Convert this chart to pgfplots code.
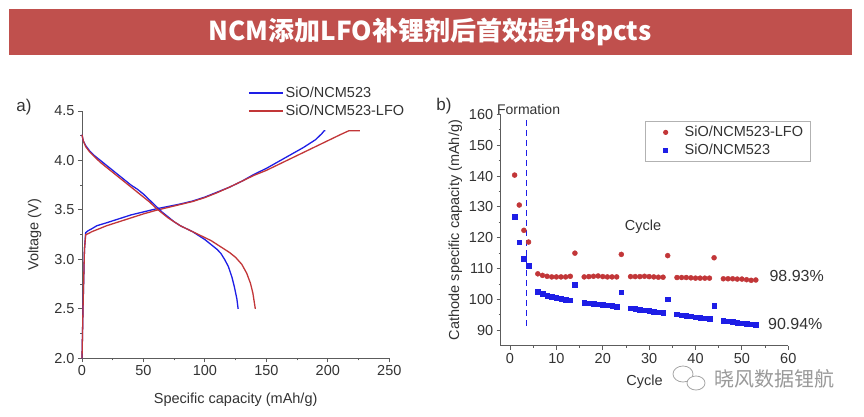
\documentclass[border=0pt]{standalone}
\usepackage{pgfplots}
\pgfplotsset{compat=1.18}
\usepackage{fontspec}
\setmainfont{Liberation Sans}
\newfontfamily\cjk{Noto Sans CJK SC}
\definecolor{banner}{HTML}{C0504D}
\definecolor{myblue}{HTML}{1E1EE6}
\definecolor{myred}{HTML}{C23638}
\definecolor{txt}{HTML}{333333}
\pgfplotsset{ostyle/.style={
  scale only axis, axis x line=bottom, axis y line=left,
  axis line style={txt!80, line width=0.9pt, -},
  tick align=outside, major tick length=4pt, minor tick length=2pt,
  every tick/.style={txt!80, line width=0.9pt},
  tick label style={font=\fontsize{14.5}{16}\selectfont, color=txt},
  label style={font=\fontsize{14.5}{16}\selectfont, color=txt},
  /pgf/number format/assume math mode=true,
  minor tick num=1, clip=false}}
\begin{document}
\begin{tikzpicture}
\useasboundingbox (0pt,0pt) rectangle (864pt,-416pt);
\fill[white] (0pt,0pt) rectangle (864pt,-416pt);
\fill[banner] (9pt,-9pt) rectangle (852pt,-55pt);
\node[white,font=\cjk\bfseries\fontsize{26}{28}\selectfont] at (430pt,-32pt) {NCM添加LFO补锂剂后首效提升8pcts};
\node[txt,font=\fontsize{17}{19}\selectfont] at (24pt,-107pt) {a)};
\node[txt,font=\fontsize{17}{19}\selectfont] at (444pt,-106pt) {b)};

\begin{axis}[ostyle, at={(82pt,-358.3pt)}, anchor=south west,
  width=307.3pt, height=247.3pt,
  xmin=0, xmax=250, ymin=2, ymax=4.5,
  xtick={0,50,...,250}, ytick={2,2.5,...,4.5},
  yticklabel style={/pgf/number format/.cd, fixed, fixed zerofill, precision=1},
  xlabel={Specific capacity (mAh/g)}, ylabel={Voltage (V)},
  xlabel style={yshift=-10pt}, ylabel style={yshift=6pt},
  legend style={at={(rel axis cs:0.54,1.105)}, anchor=north west, draw=none, fill=none,
    inner sep=0pt, row sep=2pt, font=\fontsize{14.5}{16}\selectfont, text=txt},
  legend cell align=left]
\addplot[myblue, line width=1.3pt, legend image code/.code={\draw[myblue, line width=1.6pt] (0pt,0pt) -- (34pt,0pt);}] coordinates {(0,2.0) (1,2.6) (2,3.1) (3,3.27) (5,3.29) (8,3.31) (12,3.34) (20,3.37) (30,3.41) (40,3.45) (50,3.48) (60,3.51) (70,3.535) (80,3.56) (90,3.59) (100,3.63) (110,3.68) (120,3.73) (130,3.79) (140,3.86) (150,3.92) (160,3.99) (170,4.06) (180,4.13) (190,4.21) (195,4.27) (197,4.30) (198,4.30)};
\addlegendentry{SiO/NCM523}
\addplot[myred, line width=1.3pt, legend image code/.code={\draw[myred, line width=1.6pt] (0pt,0pt) -- (34pt,0pt);}] coordinates {(0,2.0) (1,2.6) (2,3.1) (3,3.25) (5,3.26) (8,3.28) (12,3.30) (20,3.34) (30,3.38) (40,3.42) (50,3.46) (60,3.495) (70,3.525) (80,3.555) (90,3.585) (100,3.625) (110,3.675) (120,3.73) (130,3.79) (140,3.85) (150,3.90) (160,3.96) (170,4.02) (180,4.08) (190,4.14) (200,4.20) (210,4.26) (217,4.30) (226,4.30)};
\addlegendentry{SiO/NCM523-LFO}
\addplot[myblue, line width=1.3pt, forget plot] coordinates {(0,4.26) (1,4.20) (3,4.15) (6,4.10) (10,4.05) (15,4.00) (20,3.95) (25,3.90) (30,3.85) (35,3.80) (40,3.75) (45,3.71) (50,3.66) (55,3.60) (60,3.54) (65,3.48) (70,3.43) (75,3.38) (80,3.34) (85,3.31) (90,3.28) (95,3.24) (100,3.20) (105,3.15) (110,3.10) (113,3.06) (116,3.00) (119,2.93) (122,2.82) (124,2.72) (126,2.60) (127,2.50)};
\addplot[myred, line width=1.3pt, forget plot] coordinates {(0,4.26) (1,4.20) (3,4.14) (6,4.09) (10,4.04) (15,3.98) (20,3.93) (25,3.88) (30,3.83) (35,3.78) (40,3.73) (45,3.68) (50,3.63) (55,3.58) (60,3.52) (65,3.47) (70,3.42) (75,3.38) (80,3.34) (85,3.31) (90,3.28) (95,3.25) (100,3.22) (105,3.19) (110,3.15) (115,3.11) (120,3.07) (125,3.02) (130,2.95) (134,2.86) (137,2.76) (139,2.66) (141,2.50)};
\end{axis}

\begin{axis}[ostyle, at={(500.7pt,-345.7pt)}, anchor=south west,
  width=287.6pt, height=231.4pt,
  xmin=-2, xmax=60, ymin=85, ymax=160,
  xtick={0,10,...,60}, ytick={90,100,...,160},
  xlabel={Cycle}, ylabel={Cathode specific capacity (mAh/g)},
  xlabel style={yshift=-5pt},
  legend style={at={(rel axis cs:0.502,0.972)}, anchor=north west, draw=gray!60, line width=1.2pt,
    fill=white, inner xsep=5pt, inner ysep=3pt, row sep=2pt, font=\fontsize{14.5}{16}\selectfont, text=txt},
  legend cell align=left]
\addplot[only marks, mark=*, mark size=2.5pt, myred, mark options={fill=myred, draw=myred},
  legend image code/.code={\path[draw=none,fill=none] (0pt,-3pt) rectangle (32pt,3pt); \fill[myred, draw=none] (15pt,0pt) circle (2.6pt);}] coordinates {(1,140.3) (2,130.6) (3,122.4) (4,118.6) (6,108.3) (7,107.8) (8,107.5) (9,107.3) (10,107.3) (11,107.3) (12,107.3) (13,107.5) (14,115.0) (16,107.3) (17,107.4) (18,107.5) (19,107.6) (20,107.4) (21,107.3) (22,107.3) (23,107.3) (24,114.6) (26,107.4) (27,107.4) (28,107.4) (29,107.5) (30,107.4) (31,107.3) (32,107.2) (33,107.2) (34,114.2) (36,107.1) (37,107.1) (38,107.1) (39,107.0) (40,106.9) (41,106.9) (42,106.9) (43,106.9) (44,113.5) (46,106.7) (47,106.7) (48,106.7) (49,106.6) (50,106.6) (51,106.4) (52,106.2) (53,106.3)};
\addlegendentry{SiO/NCM523-LFO}
\addplot[only marks, mark=square*, mark size=2.3pt, myblue, mark options={fill=myblue, draw=myblue},
  legend image code/.code={\path[draw=none,fill=none] (0pt,-3pt) rectangle (32pt,3pt); \fill[myblue, draw=none] (12.7pt,-2.3pt) rectangle (17.3pt,2.3pt);}] coordinates {(1,126.9) (2,118.5) (3,113.2) (4,111.0) (6,102.5) (7,101.9) (8,101.3) (9,100.9) (10,100.6) (11,100.3) (12,100.0) (13,99.7) (14,104.8) (16,99.0) (17,98.8) (18,98.6) (19,98.4) (20,98.3) (21,98.1) (22,97.9) (23,97.7) (24,102.3) (26,97.2) (27,96.9) (28,96.7) (29,96.5) (30,96.3) (31,96.1) (32,95.9) (33,95.7) (34,100.1) (36,95.2) (37,94.9) (38,94.7) (39,94.5) (40,94.3) (41,94.1) (42,93.9) (43,93.7) (44,97.9) (46,93.2) (47,92.9) (48,92.7) (49,92.5) (50,92.3) (51,92.1) (52,92.0) (53,91.9)};
\addlegendentry{SiO/NCM523}
\addplot[myblue, line width=1.3pt, dash pattern=on 6pt off 4pt, forget plot] coordinates {(3.6,158) (3.6,91)};
\node[txt,font=\fontsize{14}{16}\selectfont] at (axis cs:4,161.5) {Formation};
\node[txt,font=\fontsize{14.5}{16}\selectfont] at (axis cs:28.7,123.5) {Cycle};
\node[txt,font=\fontsize{16}{18}\selectfont] at (axis cs:61.8,107.6) {98.93\%};
\node[txt,font=\fontsize{16}{18}\selectfont] at (axis cs:61.5,92.0) {90.94\%};
\end{axis}

\draw[gray!70, line width=0.8pt] (683pt,-374pt) ellipse (10pt and 8pt);
\draw[gray!70, line width=0.8pt, fill=white] (696pt,-383pt) ellipse (9pt and 7pt);
\node[gray!80,font=\cjk\fontsize{20}{22}\selectfont] at (774pt,-379pt) {晓风数据锂航};
\end{tikzpicture}
\end{document}
